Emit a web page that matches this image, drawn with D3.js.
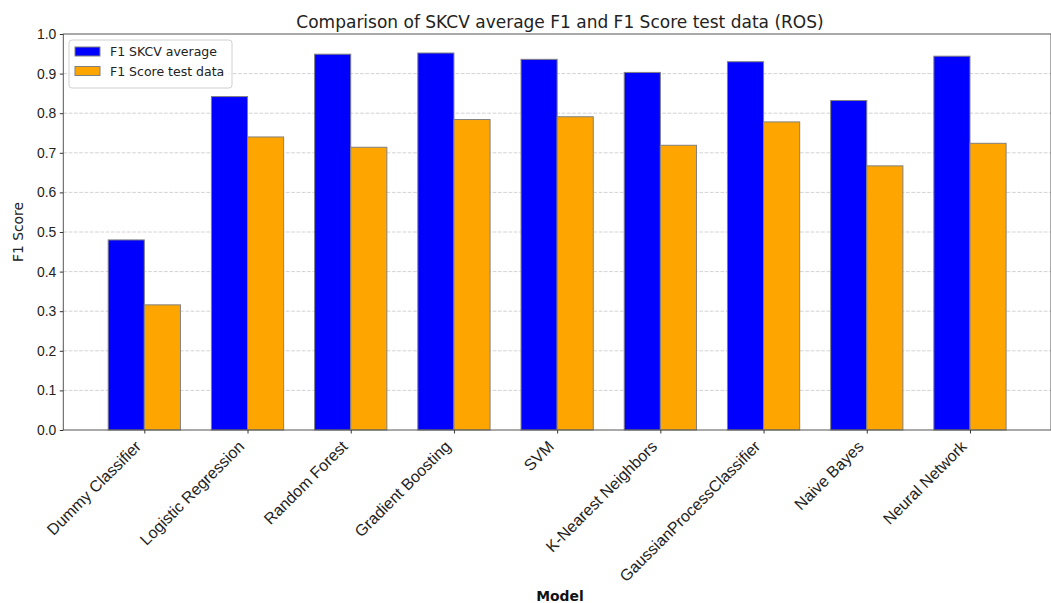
<!DOCTYPE html>
<html><head><meta charset="utf-8">
<script src="https://cdn.jsdelivr.net/npm/d3@7"></script>
<style>body{margin:0;background:#fff}svg{display:block;font-family:"DejaVu Sans",sans-serif}</style>
</head><body><svg id="c" width="1051" height="603"></svg>
<script>
const categories = ["Dummy Classifier","Logistic Regression","Random Forest","Gradient Boosting","SVM","K-Nearest Neighbors","GaussianProcessClassifier","Naive Bayes","Neural Network"];
const skcvAvg = [0.480,0.842,0.949,0.952,0.936,0.903,0.930,0.832,0.944];
const testF1 = [0.316,0.740,0.714,0.784,0.791,0.719,0.778,0.667,0.724];
const yTicks = [0,0.1,0.2,0.3,0.4,0.5,0.6,0.7,0.8,0.9,1.0];
const seriesNames = ["F1 SKCV average","F1 Score test data"];
const colors = ["#0000ff","#ffa500"];

const svg = d3.select("#c");
const L = 63.3, R = 1051, T = 34, B = 430;
const barW = 0.35;
const x = d3.scaleLinear().domain([-0.785, 8.785]).range([L, R]);
const y = d3.scaleLinear().domain([0, 1]).range([B, T]);

// grid
svg.append("g").selectAll("line").data(yTicks.slice(1,-1)).join("line")
  .attr("x1", L).attr("x2", R).attr("y1", d=>y(d)).attr("y2", d=>y(d))
  .attr("stroke", "#b0b0b0").attr("stroke-opacity",0.7).attr("stroke-dasharray","3.7,1.6").attr("stroke-width",0.8);

// bars
const series = [skcvAvg, testF1];
series.forEach((vals, s) => {
  svg.append("g").selectAll("rect").data(vals).join("rect")
    .attr("x", (d,i) => x(i + (s===0 ? -barW : 0)))
    .attr("width", x(barW) - x(0))
    .attr("y", d => y(d)).attr("height", d => y(0) - y(d))
    .attr("fill", colors[s]).attr("stroke", "#808080").attr("stroke-width", 1);
});

// axes
const yAxis = d3.axisLeft(y).tickValues(yTicks).tickFormat(d3.format(".1f")).tickSize(3.5).tickPadding(3.5);
const gy = svg.append("g").attr("transform", `translate(${L},0)`).call(yAxis);
const xAxis = d3.axisBottom(x).tickValues(d3.range(categories.length)).tickFormat(i => categories[i]).tickSize(3.5).tickPadding(3.5);
const gx = svg.append("g").attr("transform", `translate(0,${B})`).call(xAxis);
[gx, gy].forEach(g => {
  g.select(".domain").remove();
  g.selectAll(".tick line").attr("stroke", "#333");
  g.selectAll(".tick text").attr("fill", "#222").attr("font-size", "13.9px");
});
gx.selectAll(".tick text")
  .attr("font-size", "16px")
  .attr("text-anchor", "end").attr("dy", 0).attr("y", 0).attr("x", 0)
  .attr("transform", "translate(-2.7,17.5) rotate(-45)");

// spines
svg.append("rect").attr("x", L).attr("y", T).attr("width", R - L).attr("height", B - T)
  .attr("fill", "none").attr("stroke", "#555").attr("stroke-width", 1);

// title and labels
svg.append("text").attr("x", 560).attr("y", 28).attr("text-anchor", "middle")
  .attr("font-size", "17px").attr("fill", "#222").text("Comparison of SKCV average F1 and F1 Score test data (ROS)");
svg.append("text").attr("transform", `translate(23,${(T + B) / 2}) rotate(-90)`).attr("text-anchor", "middle")
  .attr("font-size", "13.9px").attr("fill", "#222").text("F1 Score");
svg.append("text").attr("x", 560).attr("y", 601).attr("text-anchor", "middle")
  .attr("font-size", "13.9px").attr("font-weight", "bold").attr("fill", "#111").text("Model");

// legend
const lg = svg.append("g").attr("transform", "translate(69,40)");
lg.append("rect").attr("width", 163).attr("height", 48).attr("rx", 3)
  .attr("fill", "#fff").attr("fill-opacity", 0.8).attr("stroke", "#d0d0d0");
seriesNames.forEach((n, i) => {
  lg.append("rect").attr("x", 6).attr("y", 7 + i * 19.5).attr("width", 25).attr("height", 9)
    .attr("fill", colors[i]).attr("stroke", "#808080");
  lg.append("text").attr("x", 41).attr("y", 16 + i * 19.5).attr("font-size", "12.5px").attr("fill", "#222").text(n);
});
</script></body></html>
